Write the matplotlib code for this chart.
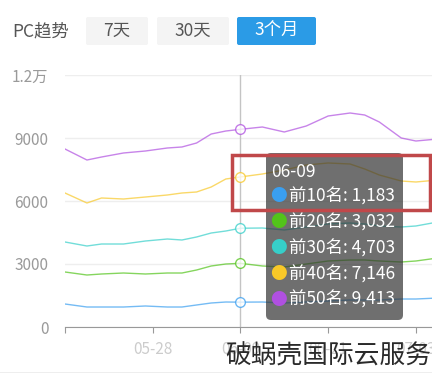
import matplotlib
matplotlib.use("Agg")
import matplotlib.pyplot as plt
import matplotlib.transforms as mtransforms
from matplotlib.patches import FancyBboxPatch, Rectangle

plt.rcParams['font.family'] = ['Noto Sans CJK SC', 'DejaVu Sans']

# day offsets from 05-16
days = [0, 3, 5, 8, 11, 14, 16, 18, 20, 22, 24, 27, 30, 33, 36, 39, 41, 43, 46, 48, 51]
top10 = [1095, 952, 952, 952, 1000, 952, 952, 1048, 1143, 1190, 1183, 1190, 1143, 1190, 1238, 1286, 1286, 1286, 1333, 1333, 1381]
top20 = [2619, 2476, 2524, 2571, 2524, 2571, 2571, 2714, 2905, 3000, 3032, 2905, 2857, 3000, 3143, 3190, 3190, 3143, 3095, 3143, 3286]
top30 = [4048, 3857, 3952, 3952, 4095, 4190, 4143, 4286, 4476, 4571, 4703, 4714, 4619, 4762, 4905, 4952, 4905, 4810, 4762, 4810, 5000]
top40 = [6381, 5905, 6143, 6095, 6190, 6286, 6381, 6429, 6667, 7048, 7146, 7286, 7476, 7714, 7810, 7762, 7524, 7238, 6952, 6905, 7000]
top50 = [8476, 7952, 8095, 8286, 8381, 8524, 8572, 8762, 9190, 9333, 9413, 9524, 9286, 9571, 10048, 10190, 10095, 9762, 9000, 8857, 8952]

series_names = ['前10名', '前20名', '前30名', '前40名', '前50名']
series_vals = [top10, top20, top30, top40, top50]
colors = ['#3a9ff0', '#52c41a', '#36cfc9', '#f8c828', '#b050e0']

tick_days = [0, 12, 24, 36, 48]
tick_labels = ['', '05-28', '06-09', '06-21', '07-03']
y_ticks = [0, 3000, 6000, 9000, 12000]
y_labels = ['0', '3000', '6000', '9000', '1.2万']
hover_day = 24
hover_label = '06-09'

W, H = 432, 377
fig = plt.figure(figsize=(W / 100, H / 100), dpi=100)
# pixel coords with origin at top-left
pxT = mtransforms.Affine2D().scale(1 / W, -1 / H).translate(0, 1) + fig.transFigure

ax = fig.add_axes([65 / W, 50 / H, 367 / W, 252 / H])
for c, v in zip(colors, series_vals):
    ax.plot(days, v, color=c, lw=1.0, alpha=0.7, zorder=3)
    ax.plot([hover_day], [v[days.index(hover_day)]], 'o', ms=7, mfc='white',
            mec=c, mew=1.0, alpha=0.75, zorder=4)

ax.axvline(hover_day, color='#c4c4c4', lw=1, zorder=2)
ax.set_xlim(0, 367 / 7.31)
ax.set_ylim(0, 12000)
ax.set_yticks(y_ticks)
ax.set_yticklabels(y_labels)
ax.set_xticks(tick_days)
ax.set_xticklabels(tick_labels)
ax.grid(axis='y', color='#eeeeee', lw=1)
ax.set_axisbelow(True)
for s in ['top', 'right', 'left']:
    ax.spines[s].set_visible(False)
ax.spines['bottom'].set_color('#999999')
ax.tick_params(axis='y', length=0, pad=12, labelsize=11, labelcolor='#9a9a9a')
ax.tick_params(axis='x', length=4, color='#999999', pad=6, labelsize=11, labelcolor='#cccccc')

# header buttons
fig.text(12, 31, 'PC趋势', transform=pxT, fontsize=12.5, color='#555555', va='center')
buttons = [('7天', 86, 148, '#f4f4f4', '#555555'),
           ('30天', 157, 229, '#f4f4f4', '#555555'),
           ('3个月', 237, 316, '#2b9be6', 'white')]
for label, x0, x1, bg, fg in buttons:
    fig.add_artist(FancyBboxPatch((x0, 17), x1 - x0, 28, boxstyle='round,pad=0,rounding_size=2',
                                  transform=pxT, fc=bg, ec='none'))
    fig.text((x0 + x1) / 2, 31, label, transform=pxT, fontsize=12.5, color=fg,
             ha='center', va='center')

# tooltip
fig.add_artist(FancyBboxPatch((266, 153), 137, 167, boxstyle='round,pad=0,rounding_size=5',
                              transform=pxT, fc=(50 / 255, 50 / 255, 50 / 255, 0.7), ec='none',
                              zorder=10))
fig.text(271, 172, hover_label, transform=pxT, fontsize=12.5, color='white', va='center', zorder=11)
for i, (name, v, c) in enumerate(zip(series_names, series_vals, colors)):
    yy = 197 + i * 25.75
    fig.text(278, yy, '●', transform=pxT, fontsize=12, color=c, ha='center', va='center', zorder=11)
    fig.text(289, yy, f'{name}: {v[days.index(hover_day)]:,}', transform=pxT,
             fontsize=12.5, color='white', va='center', zorder=11)

# red highlight box
fig.add_artist(Rectangle((232, 155), 198, 55, transform=pxT, fill=False,
                         ec='#c0484a', lw=2.5, zorder=12))

# bottom line and watermark
fig.add_artist(Rectangle((0, 372), W, 1, transform=pxT, fc='#eeeeee', ec='none'))
fig.text(431, 357, '破蜗壳国际云服务', transform=pxT, fontsize=18.5, color='#2a2a2a',
         ha='right', va='center', zorder=13)

fig.savefig('out.png', dpi=100)
